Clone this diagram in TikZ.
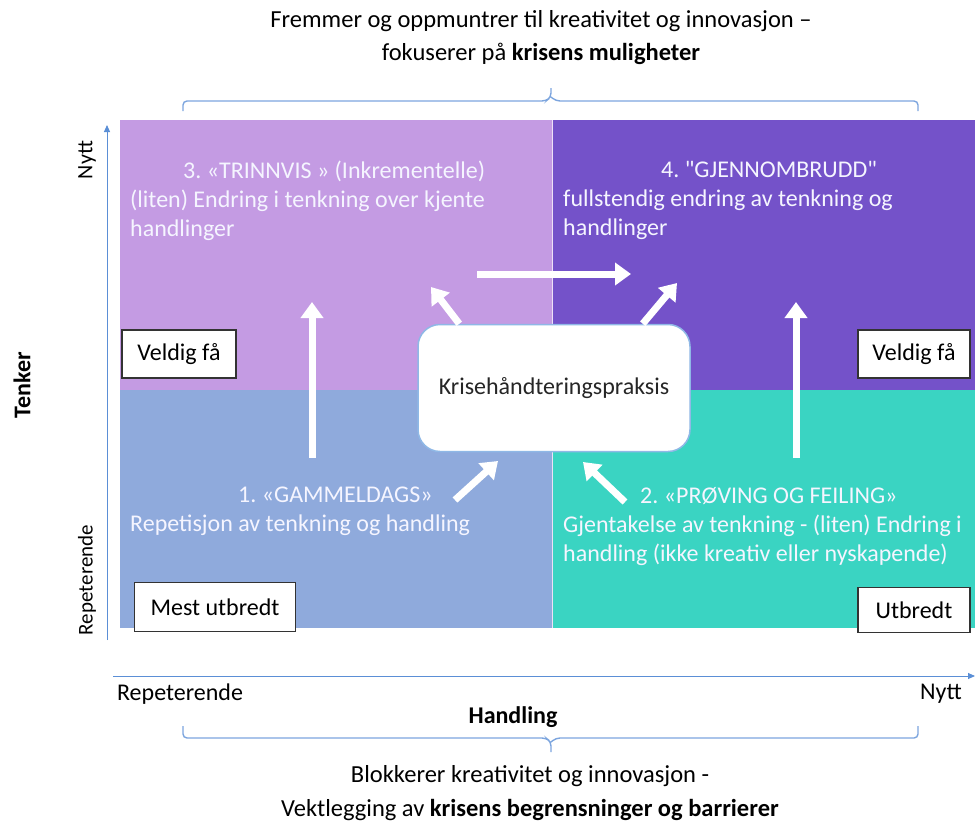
\documentclass[tikz,border=0pt]{standalone}
\usepackage{fontspec}
\setmainfont{Carlito}
\usetikzlibrary{arrows.meta, positioning}
\frenchspacing

\definecolor{trinnvis}{HTML}{C49BE3}
\definecolor{gjennom}{HTML}{7452C9}
\definecolor{gammel}{HTML}{8FAADC}
\definecolor{proving}{HTML}{3AD4C2}
\definecolor{akse}{HTML}{5B8FD6}
\definecolor{kant}{HTML}{8FB8E6}

\begin{document}
\begin{tikzpicture}[x=1pt, y=-1pt,
    every node/.style={font=\fontsize{24}{29}\selectfont},
    quadtext/.style={anchor=north west, align=left, text=white!96!blue, inner sep=0pt},
    tag/.style={draw=black!80, line width=1.2pt, fill=white, inner sep=0pt},
    pil/.style={white, line width=7pt, -{Triangle[width=22pt,length=16pt]}},
    brace/.style={akse!80, line width=1.4pt, rounded corners=4pt},
    axis/.style={akse, line width=0.9pt, -{Triangle[width=6pt,length=7pt]}}]
  \useasboundingbox (0,0) rectangle (975,827);

  % quadrants
  \fill[trinnvis] (120,120) rectangle (552,390);
  \fill[gjennom] (552,120) rectangle (975,390);
  \fill[gammel] (120,390) rectangle (552,628);
  \fill[proving] (552,390) rectangle (975,628);
  \draw[white!70!trinnvis, line width=0.8pt] (552,120) -- (552,628);

  % heading and footing
  \node[align=center, font=\fontsize{24.5}{33}\selectfont] (top) at (541,38)
    {Fremmer og oppmuntrer til kreativitet og innovasjon –\\
     fokuserer på \textbf{krisens muligheter}};
  \node[align=center, font=\fontsize{24.5}{34}\selectfont] (bottom) at (530,793)
    {Blokkerer kreativitet og innovasjon -\\
     Vektlegging av \textbf{krisens begrensninger og barrierer}};
  \draw[brace] (183,111) -- (183,101) -- (546,101) -- (551,97) -- (551,88)
    (551,97) -- (556,101) -- (918,101) -- (918,111);
  \draw[brace] (183,726) -- (183,738) -- (546,738) -- (551,742) -- (551,752)
    (551,742) -- (556,738) -- (918,738) -- (918,726);

  % axes
  \coordinate (yfrom) at (107,640);
  \coordinate (yto) at (107,125);
  \coordinate (xfrom) at (113,676);
  \coordinate (xto) at (975,676);
  \draw[axis] (yfrom) -- (yto);
  \draw[axis] (xfrom) -- (xto);
  \node[rotate=90, font=\fontsize{22}{26}\selectfont] (ynytt) at (87,160) {Nytt};
  \node[rotate=90, font=\fontsize{21}{26}\selectfont] (yrep) at (87,580) {Repeterende};
  \node[rotate=90, font=\fontsize{24}{29}\selectfont\bfseries] (tenker) at (22,385) {Tenker};
  \node (xrep) at (180,694) {Repeterende};
  \node (xnytt) at (941,694) {Nytt};
  \node[font=\fontsize{24}{29}\selectfont\bfseries] (handling) at (513,717) {Handling};

  % quadrant texts
  \node[quadtext] (t3) at (130,161)
    {\hspace*{53pt}3. «TRINNVIS » (Inkrementelle)\\
     (liten) Endring i tenkning over kjente\\handlinger};
  \node[quadtext] (t4) at (563,161)
    {\hspace*{98pt}4. \textquotedbl GJENNOMBRUDD\textquotedbl\\
     fullstendig endring av tenkning og\\handlinger};
  \node[quadtext] (t1) at (130,487)
    {\hspace*{108pt}1. «GAMMELDAGS»\\
     Repetisjon av tenkning og handling};
  \node[quadtext] (t2) at (563,487)
    {\hspace*{77pt}2. «PRØVING OG FEILING»\\
     Gjentakelse av tenkning - (liten) Endring i\\
     handling (ikke kreativ eller nyskapende)};

  % tags
  \node[tag, minimum width=114pt, minimum height=48pt] (vf1) at (179,354) {Veldig få};
  \node[tag, minimum width=112pt, minimum height=48pt] (vf2) at (914,354) {Veldig få};
  \node[tag, minimum width=161pt, minimum height=49pt] (mest) at (215,607) {Mest utbredt};
  \node[tag, minimum width=112pt, minimum height=45pt] (utbredt) at (914,610) {Utbredt};

  % centre
  \node[draw=kant, line width=1.5pt, fill=white, rounded corners=22pt,
    minimum width=272pt, minimum height=127pt] (krise) at (554,388)
    {\color{black!85}Krisehåndteringspraksis};

  % arrows
  \coordinate (a1) at (312,458);
  \coordinate (a1e) at (312,302);
  \coordinate (a2) at (796,458);
  \coordinate (a2e) at (796,302);
  \draw[pil] (a1) -- (a1e);
  \draw[pil] (a2) -- (a2e);
  \draw[pil] (477,274) coordinate (h) -- (631,274) coordinate (he);
  \draw[pil] (krise.north west) ++(42,0) coordinate (ul) -- (431,287);
  \draw[pil] (krise.north east) ++(-48,0) coordinate (ur) -- (677,283);
  \coordinate (ll) at (455,500);
  \coordinate (lr) at (625,502);
  \draw[pil] (ll) -- (498,461);
  \draw[pil] (lr) -- (583,462);
\end{tikzpicture}
\end{document}
